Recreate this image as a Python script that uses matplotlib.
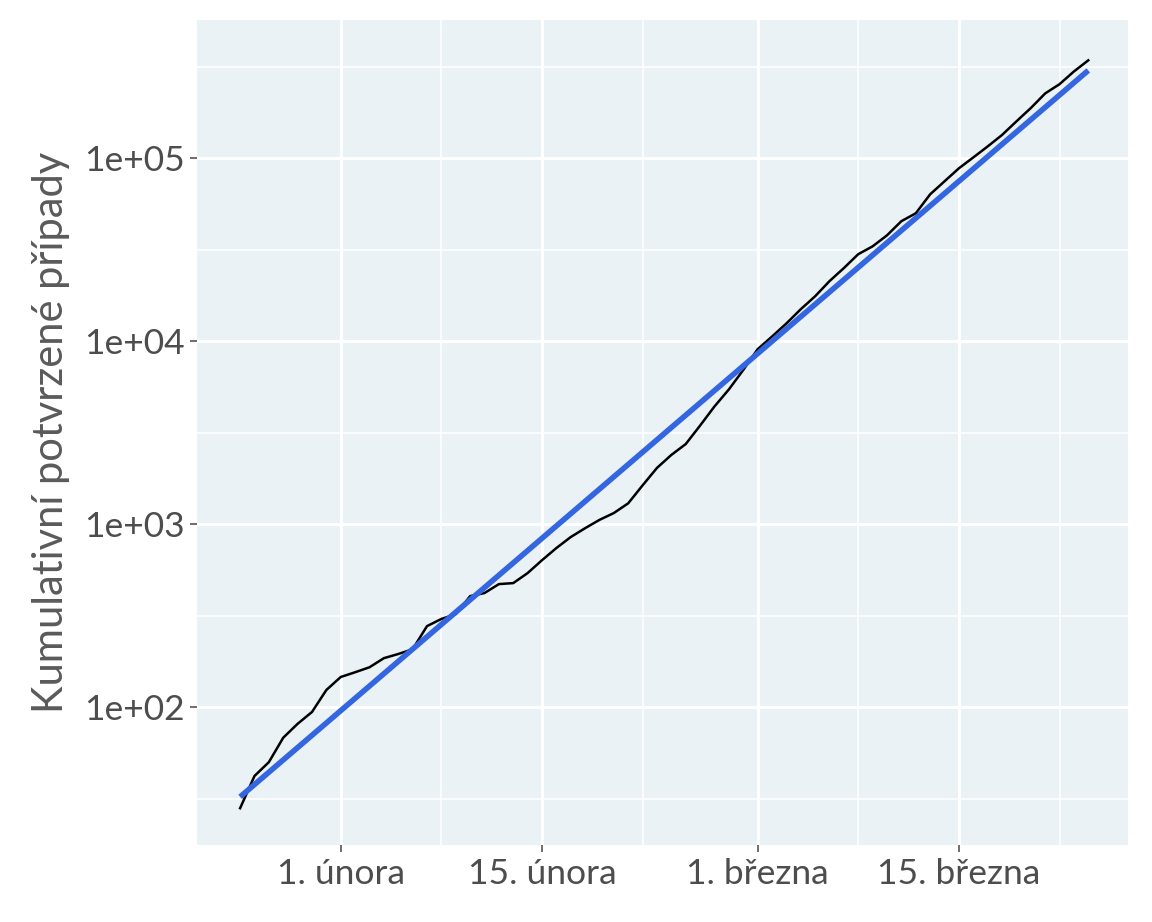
import matplotlib
matplotlib.use("Agg")
import matplotlib.pyplot as plt
import numpy as np
import datetime as dt

start = dt.date(2020, 1, 25)
cases = [28, 42, 50, 68, 81, 94, 124, 146, 155, 165, 185, 195, 207, 277, 303, 322,
         404, 420, 470, 476, 540, 635, 740, 850, 950, 1055, 1150, 1300, 1630, 2030,
         2390, 2740, 3460, 4400, 5450, 6960, 9040, 10600, 12500, 14950, 17600, 21300,
         25100, 29900, 33000, 37900, 45300, 50000, 63500, 74800, 88100, 101000,
         116000, 134000, 159000, 188000, 226000, 254000, 298000, 343000]
fit_ends = [32.3, 302000]
xtick_dates = [dt.date(2020, 2, 1), dt.date(2020, 2, 15), dt.date(2020, 3, 1), dt.date(2020, 3, 15)]
xtick_labels = ["1. února", "15. února", "1. března", "15. března"]
xminor_dates = [dt.date(2020, 2, 8), dt.date(2020, 2, 22), dt.date(2020, 3, 8), dt.date(2020, 3, 22)]
yticks = [1e2, 1e3, 1e4, 1e5]
ytick_labels = ["1e+02", "1e+03", "1e+04", "1e+05"]

dates = [start + dt.timedelta(days=i) for i in range(len(cases))]

plt.rcParams['font.family'] = ['Lato', 'DejaVu Sans']
fig = plt.figure(figsize=(11.52, 9.22), dpi=100)
ax = fig.add_axes([0.171, 0.0835, 0.808, 0.8945])
ax.set_facecolor('#EAF2F6')
ax.set_yscale('log')
ax.set_xlim(dt.datetime(2020, 1, 22), dt.datetime(2020, 3, 26, 18))
ax.set_ylim(10**(2 + (707 - 845) / 183), 10**(2 + (707 - 20) / 183))

ax.set_yticks(yticks)
ax.set_yticklabels(ytick_labels)
ax.set_yticks([10**(k + 0.5) for k in range(1, 6)], minor=True)
ax.yaxis.set_minor_formatter(matplotlib.ticker.NullFormatter())
ax.set_xticks(xtick_dates)
ax.set_xticklabels(xtick_labels)
ax.set_xticks(xminor_dates, minor=True)

ax.grid(True, which='major', color='white', lw=2.2)
ax.grid(True, which='minor', color='white', lw=1.1)
ax.set_axisbelow(True)
for s in ax.spines.values():
    s.set_visible(False)
ax.tick_params(which='major', length=5, width=1.2, color='#555555', labelsize=25.5, labelcolor='#4d4d4d', pad=4)
ax.tick_params(which='minor', length=0)

ax.plot(dates, cases, color='black', lw=1.8)
ax.plot([dates[0], dates[-1]], fit_ends, color='#3366E0', lw=4, solid_capstyle='butt')
ax.set_ylabel("Kumulativní potvrzené případy", fontsize=30, color='#5a5a5a', labelpad=10)
fig.savefig("out.png", dpi=100)
